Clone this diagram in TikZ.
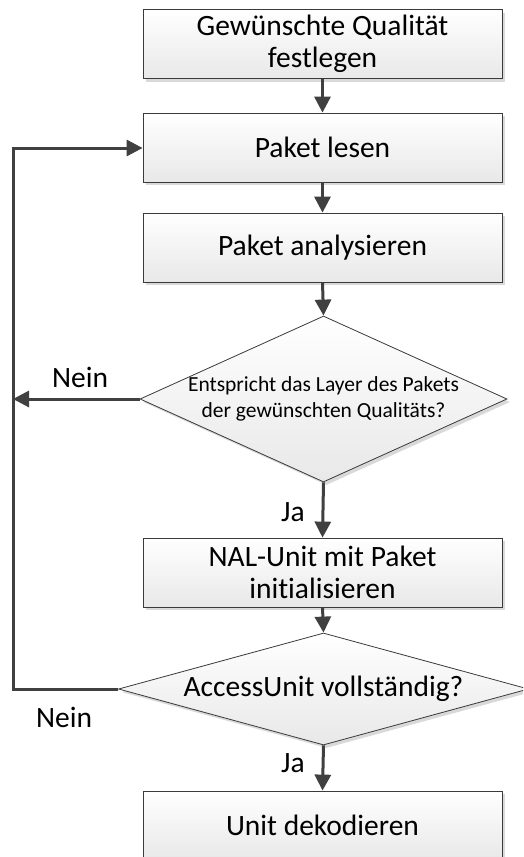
\documentclass[tikz,border=0pt]{standalone}
\usepackage{fontspec}
\setmainfont{Carlito}[Ligatures={NoCommon}]
\usetikzlibrary{shapes.geometric,shadows,arrows.meta}
\definecolor{lineclr}{HTML}{404040}
\definecolor{edgeclr}{HTML}{3A3A3A}
\definecolor{shadowclr}{HTML}{D9D9D9}
\begin{document}
\begin{tikzpicture}[x=1pt,y=-1pt,
  bigfont/.style={font=\fontsize{29.5}{32}\selectfont},
  stepbox/.style={rectangle, draw=edgeclr, line width=0.8pt,
    top color=white, bottom color=black!9,
    minimum width=359pt, minimum height=69pt, inner sep=0pt, align=center,
    bigfont,
    drop shadow={shadow xshift=3pt, shadow yshift=-3pt, fill=shadowclr, opacity=1}},
  decision/.style={diamond, draw=edgeclr, line width=0.8pt,
    top color=white, bottom color=black!9, inner sep=0pt,
    drop shadow={shadow xshift=3pt, shadow yshift=-3pt, fill=shadowclr, opacity=1}},
  flow/.style={draw=lineclr, line width=3pt, -{Triangle[length=16pt,width=16pt]}},
  loopline/.style={draw=lineclr, line width=3pt},
  lbl/.style={bigfont, inner sep=0pt}]
\clip (0,0) rectangle (523,857);
\fill[white] (0,0) rectangle (523,857);

% process steps
\node[stepbox] (s1) at (322.5,44) {Gewünschte Qualität\\festlegen};
\node[stepbox] (s2) at (322.5,147.5) {Paket lesen};
\node[stepbox] (s3) at (322.5,247.5) {Paket analysieren};
\node[decision, minimum width=367pt, minimum height=166pt] (d1) at (323.5,399) {};
\node[align=center, font=\fontsize{21.5}{25.5}\selectfont, inner sep=0pt] (d1t) at (d1) {Entspricht das Layer des Pakets\\der gewünschten Qualitäts?};
\node[stepbox] (s4) at (322.5,572.5) {NAL-Unit mit Paket\\initialisieren};
\node[decision, minimum width=410pt, minimum height=112pt] (d2) at (323.5,689) {};
\node[bigfont, inner sep=0pt] (d2t) at (d2) {AccessUnit vollständig?};
\node[stepbox] (s5) at (322.5,825.5) {Unit dekodieren};

% loop-back corner points
\coordinate (c1) at (13,399);
\coordinate (c2) at (13,689);
\coordinate (c3) at (13,148);

% connectors
\draw[flow] (s1.south) -- (s2.north);
\draw[flow] (s2.south) -- (s3.north);
\draw[flow] (s3.south) -- (d1.north);
\draw[flow] (d1.south) -- (s4.north);
\draw[flow] (s4.south) -- (d2.north);
\draw[flow] (d2.south) -- (s5.north);
\draw[flow] (d1.west) -- (c1);
\draw[loopline] (d2.west) -- (c2) -- (c3);
\draw[flow] ([xshift=-1.5pt]c3) -- (s2.west |- c3);

% branch labels
\node[lbl] (n1) at (80,377) {Nein};
\node[lbl] (j1) at (293,512) {Ja};
\node[lbl] (n2) at (64,717) {Nein};
\node[lbl] (j2) at (293,763) {Ja};
\end{tikzpicture}
\end{document}
